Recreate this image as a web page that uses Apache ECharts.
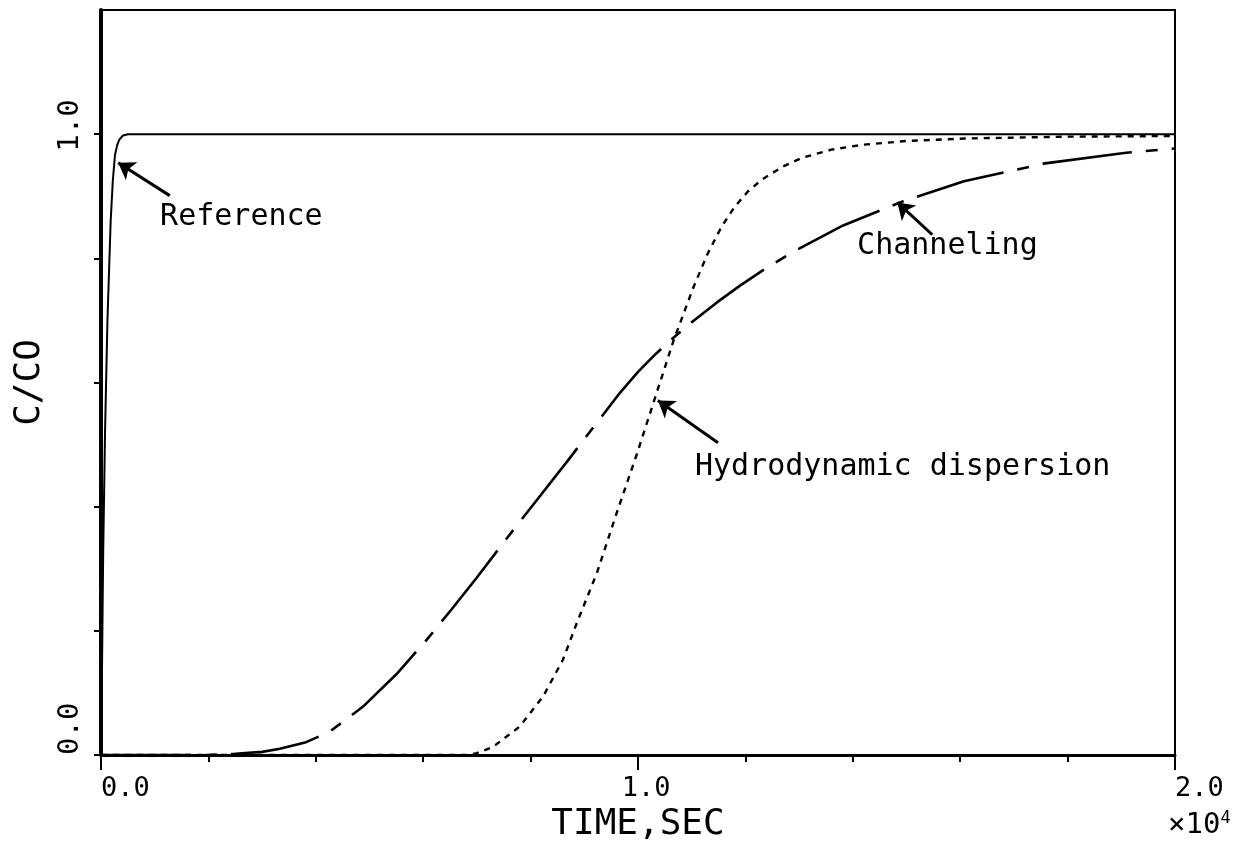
<!DOCTYPE html>
<html>
<head>
<meta charset="utf-8">
<script src="https://cdn.jsdelivr.net/npm/echarts@6/dist/echarts.min.js"></script>
<style>
  html, body { margin: 0; padding: 0; background: #fff; }
  #chart { width: 1235px; height: 858px; }
</style>
</head>
<body>
<div id="chart"></div>
<script>
// ---- data (time in units of 1e4 s, value C/C0) ----
const refTime = [0, 0.002, 0.004, 0.0075, 0.012, 0.018, 0.022, 0.026, 0.030, 0.034, 0.041, 0.05, 2.0];
const refConc = [0, 0.15, 0.32, 0.52, 0.70, 0.86, 0.925, 0.966, 0.982, 0.991, 0.998, 1.0, 1.0];

const chanTime = [0, 0.2, 0.25, 0.3, 0.333, 0.38, 0.425, 0.488, 0.55, 0.606, 0.656, 0.70, 0.762, 0.811, 0.87, 0.917, 0.966, 1.0, 1.033, 1.066, 1.1, 1.147, 1.19, 1.24, 1.29, 1.382, 1.494, 1.607, 1.758, 1.909, 2.0];
const chanConc = [0, 0, 0.002, 0.005, 0.010, 0.02, 0.037, 0.078, 0.13, 0.185, 0.238, 0.286, 0.356, 0.41, 0.475, 0.528, 0.583, 0.617, 0.646, 0.672, 0.697, 0.729, 0.756, 0.785, 0.811, 0.853, 0.892, 0.924, 0.953, 0.970, 0.977];

const hydroTime = [0, 0.68, 0.70, 0.73, 0.78, 0.823, 0.86, 0.888, 0.923, 0.96, 0.998, 1.032, 1.066, 1.103, 1.13, 1.155, 1.18, 1.205, 1.231, 1.27, 1.306, 1.36, 1.419, 1.5, 1.607, 1.8, 2.0];
const hydroConc = [0, 0, 0.003, 0.013, 0.046, 0.094, 0.153, 0.217, 0.292, 0.389, 0.485, 0.576, 0.667, 0.753, 0.808, 0.85, 0.883, 0.908, 0.927, 0.948, 0.962, 0.975, 0.983, 0.989, 0.993, 0.996, 0.997];

const xTickValues = [0, 1, 2];
const xTickLabels = ['0.0', '1.0', '2.0'];
const yTickValues = [0, 1];
const yTickLabels = ['0.0', '1.0'];

const annotationText = ['Reference', 'Channeling', 'Hydrodynamic dispersion'];
const annotationTextAt = [[0.110, 0.867], [1.408, 0.820], [1.106, 0.463]];
const arrowTail = [[0.128, 0.901], [1.548, 0.838], [1.149, 0.503]];
const arrowTip = [[0.032, 0.954], [1.483, 0.890], [1.037, 0.571]];

const FONT = '"DejaVu Sans Mono", "Liberation Mono", monospace';
const zip = (a, b) => a.map((v, i) => [v, b[i]]);

const xPad = ['   ', ' ', '   '];
const yPad = ['   ', ' '];

const chart = echarts.init(document.getElementById('chart'), null, { renderer: 'canvas' });
chart.setOption({
  backgroundColor: '#ffffff',
  animation: false,
  grid: { left: 101, right: 60, top: 10, bottom: 103, show: true, borderColor: '#000', borderWidth: 2, containLabel: false },
  xAxis: {
    type: 'value', min: 0, max: 2, interval: 1,
    name: 'TIME,SEC', nameLocation: 'middle', nameGap: 44,
    nameTextStyle: { fontFamily: FONT, fontSize: 36, color: '#000' },
    axisLine: { show: true, onZero: false, lineStyle: { color: '#000', width: 3 } },
    axisTick: { show: true, length: 15, lineStyle: { color: '#000', width: 2 } },
    minorTick: { show: true, splitNumber: 5, length: 7, lineStyle: { color: '#000', width: 2 } },
    splitLine: { show: false },
    axisLabel: {
      margin: 20, fontFamily: FONT, fontSize: 27, color: '#000',
      formatter: function (v) {
        const i = xTickValues.findIndex(t => Math.abs(t - v) < 1e-9);
        return i < 0 ? '' : xPad[i] + xTickLabels[i];
      }
    }
  },
  yAxis: {
    type: 'value', min: 0, max: 1.2, interval: 0.2,
    name: 'C/CO', nameLocation: 'middle', nameGap: 53,
    nameTextStyle: { fontFamily: FONT, fontSize: 36, color: '#000' },
    axisLine: { show: true, onZero: false, lineStyle: { color: '#000', width: 4 } },
    axisTick: { show: true, length: 7, lineStyle: { color: '#000', width: 2 } },
    splitLine: { show: false },
    axisLabel: {
      margin: 16, rotate: 90, align: 'center', fontFamily: FONT, fontSize: 29, color: '#000',
      showMaxLabel: false,
      formatter: function (v) {
        const i = yTickValues.findIndex(t => Math.abs(t - v) < 1e-9);
        return i < 0 ? '' : yPad[i] + yTickLabels[i];
      }
    }
  },
  graphic: [{
    type: 'text', left: 1168, top: 810,
    style: {
      text: '{b|×10}{s|4}',
      rich: {
        b: { fontFamily: FONT, fontSize: 29, fill: '#000' },
        s: { fontFamily: FONT, fontSize: 17, fill: '#000', verticalAlign: 'top', padding: [0, 0, 14, 0] }
      }
    }
  }],
  series: [
    {
      name: 'Reference', type: 'line', data: zip(refTime, refConc),
      showSymbol: false, smooth: false,
      lineStyle: { color: '#000', width: 2 }, z: 3
    },
    {
      name: 'Channeling', type: 'line', data: zip(chanTime, chanConc),
      showSymbol: false, smooth: false,
      lineStyle: { color: '#000', width: 2.6, type: [90, 14, 12, 14] }, z: 3
    },
    {
      name: 'Hydrodynamic dispersion', type: 'line', data: zip(hydroTime, hydroConc),
      showSymbol: false, smooth: false,
      lineStyle: { color: '#000', width: 2.4, type: [6, 6] }, z: 3
    },
    {
      name: 'annotations', type: 'scatter', symbolSize: 0,
      itemStyle: { opacity: 1 },
      data: annotationTextAt.map((p, i) => ({ value: p, name: annotationText[i] })),
      label: {
        show: true, position: 'right', distance: 0,
        formatter: p => p.name,
        fontFamily: FONT, fontSize: 30, color: '#000', opacity: 1
      },
      silent: true,
      markLine: {
        silent: true, animation: false,
        symbol: ['none', 'arrow'], symbolSize: 16,
        label: { show: false },
        lineStyle: { color: '#000', width: 3, type: 'solid', opacity: 1 },
        data: arrowTail.map((t, i) => [{ coord: t }, { coord: arrowTip[i] }])
      }
    }
  ]
});
</script>
</body>
</html>
